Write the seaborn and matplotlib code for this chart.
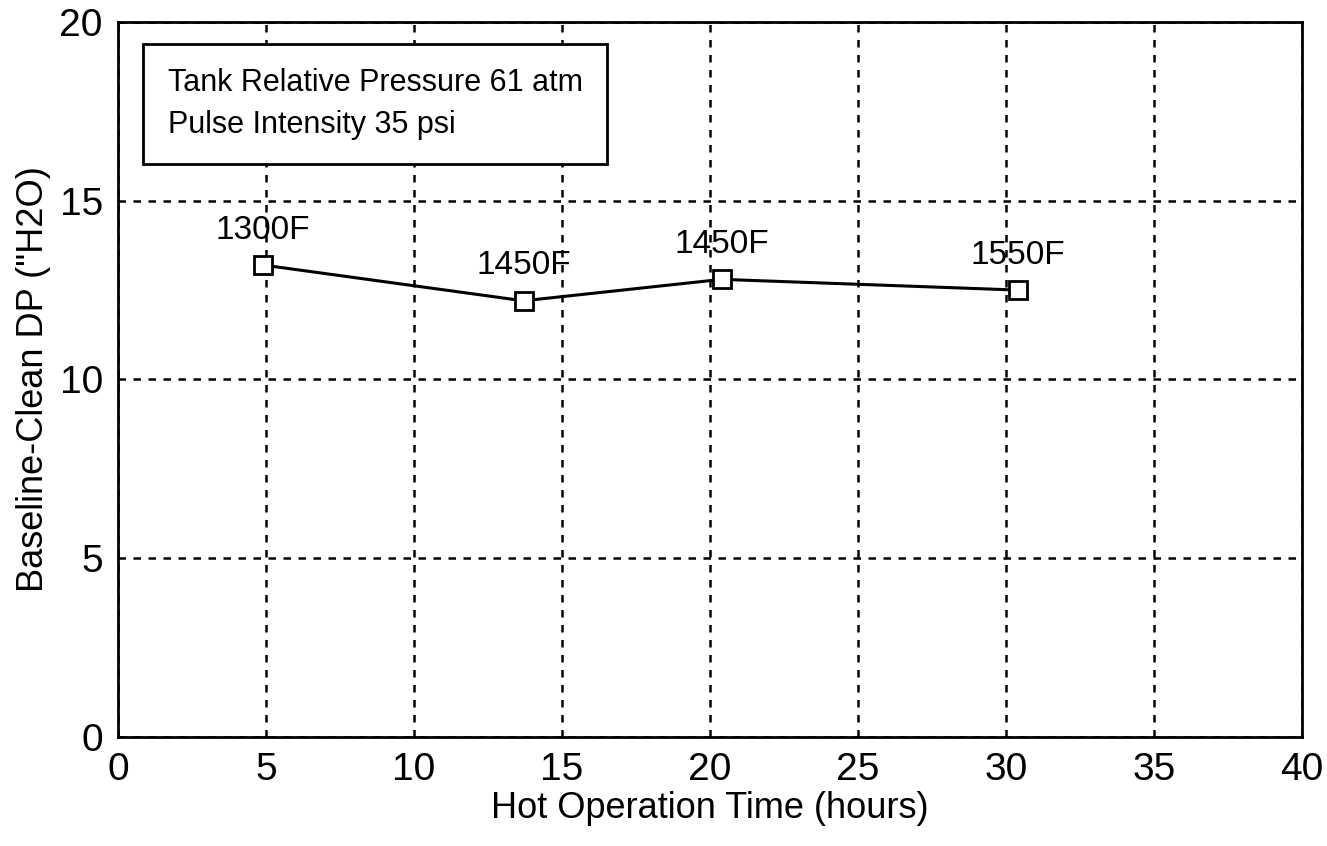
import numpy as np
import pandas as pd
import matplotlib
matplotlib.use('Agg')
import matplotlib.pyplot as plt
import seaborn as sns

# data
hours = [4.9, 13.7, 20.4, 30.4]
dp_h2o = [13.2, 12.2, 12.8, 12.5]
temp_labels = ['1300F', '1450F', '1450F', '1550F']

x_ticks = [0, 5, 10, 15, 20, 25, 30, 35, 40]
y_ticks = [0, 5, 10, 15, 20]

sns.set_style('white')
plt.rcParams['font.family'] = ['Liberation Sans Narrow', 'Liberation Sans', 'DejaVu Sans']
plt.rcParams['text.color'] = 'black'
plt.rcParams['axes.labelcolor'] = 'black'
plt.rcParams['xtick.color'] = 'black'
plt.rcParams['ytick.color'] = 'black'

df = pd.DataFrame({'hours': hours, 'dp': dp_h2o, 'temp': temp_labels})

fig = plt.figure(figsize=(13.27, 8.46), dpi=100)
ax = fig.add_axes([0.089, 0.129, 0.892, 0.845])

sns.lineplot(data=df, x='hours', y='dp', ax=ax, color='black', linewidth=2.2,
             marker='s', markersize=13, markerfacecolor='white',
             markeredgecolor='black', markeredgewidth=2)

for x, y, t in zip(hours, dp_h2o, temp_labels):
    ax.annotate(t, (x, y), xytext=(0, 14), textcoords='offset points',
                ha='center', va='bottom', fontsize=24)

ax.set_xlim(0, 40)
ax.set_ylim(0, 20)
ax.set_xticks(x_ticks)
ax.set_yticks(y_ticks)
ax.tick_params(direction='inout', length=10, width=1.5, labelsize=28, pad=6)
ax.grid(True, color='black', linestyle=(0, (3, 3)), linewidth=1.8)
for s in ax.spines.values():
    s.set_linewidth(2)
    s.set_color('black')

ax.set_xlabel('Hot Operation Time (hours)', fontsize=26, labelpad=2)
ax.set_ylabel('Baseline-Clean DP ("H2O)', fontsize=26, labelpad=6)

ax.text(0.042, 0.935,
        'Tank Relative Pressure 61 atm\nPulse Intensity 35 psi',
        transform=ax.transAxes, ha='left', va='top', fontsize=22,
        linespacing=1.5,
        bbox=dict(boxstyle='square,pad=0.8', facecolor='white',
                  edgecolor='black', linewidth=2))

fig.savefig('out.png', dpi=100)
